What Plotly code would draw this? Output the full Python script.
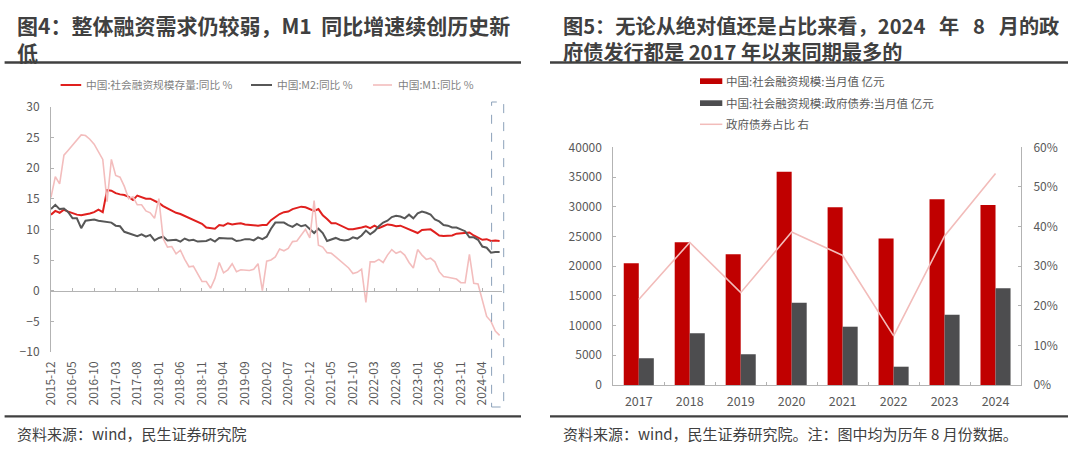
import plotly.graph_objects as go

# ---------------- data: left chart (monthly, 2015-12 .. 2024-08) ----------------
months = ["2015-12"] + [f"{y}-{m:02d}" for y in range(2016, 2025) for m in range(1, 13)]
months = months[:105]

tsf_stock_yoy = [
    12.4,
    13.0, 12.7, 13.2, 12.9, 12.6, 12.4, 12.3, 12.4, 12.6, 12.8, 13.2, 12.8,
    16.4, 16.3, 15.9, 15.7, 15.6, 15.3, 14.8, 15.5, 15.2, 15.0, 15.0, 14.7,
    14.3, 13.8, 13.4, 13.0, 12.7, 12.5, 12.2, 11.8, 11.6, 11.3, 10.9, 10.3,
    10.2, 10.1, 10.7, 10.6, 11.0, 10.8, 10.9, 11.0, 10.8, 10.7, 10.6, 10.6,
    10.7, 10.7, 11.5, 12.0, 12.5, 12.8, 12.9, 13.3, 13.5, 13.7, 13.6, 13.3,
    13.0, 13.3, 12.3, 11.7, 11.0, 11.0, 10.7, 10.3, 10.0, 10.0, 10.1, 10.3,
    10.5, 10.2, 10.6, 10.2, 10.5, 10.8, 10.7, 10.5, 10.6, 10.3, 10.0, 9.6,
    9.4, 9.9, 10.0, 10.0, 9.5, 9.0, 8.9, 9.0, 9.0, 9.3, 9.4, 9.5,
    9.5, 9.0, 8.7, 8.3, 8.4, 8.1, 8.2, 8.1,
]
m2_yoy = [
    13.3,
    14.0, 13.3, 13.4, 12.8, 11.8, 11.8, 10.2, 11.4, 11.5, 11.6, 11.4, 11.3,
    11.3, 11.1, 10.6, 10.5, 9.6, 9.4, 9.2, 8.9, 9.2, 8.8, 9.1, 8.2,
    8.6, 8.8, 8.2, 8.3, 8.3, 8.0, 8.5, 8.2, 8.3, 8.0, 8.0, 8.1,
    8.4, 8.0, 8.6, 8.5, 8.5, 8.5, 8.1, 8.2, 8.4, 8.4, 8.2, 8.7,
    8.4, 8.8, 10.1, 11.1, 11.1, 11.1, 10.7, 10.4, 10.9, 10.5, 10.7, 10.1,
    9.4, 10.1, 9.4, 8.1, 8.3, 8.6, 8.3, 8.2, 8.3, 8.7, 8.5, 9.0,
    9.8, 9.2, 9.7, 10.5, 11.1, 11.4, 12.0, 12.2, 12.1, 11.8, 12.4, 11.8,
    12.6, 12.9, 12.7, 12.4, 11.6, 11.3, 10.7, 10.6, 10.3, 10.3, 10.0, 9.7,
    8.7, 8.7, 8.3, 7.2, 7.0, 6.2, 6.3, 6.3,
]
m1_yoy = [
    15.2,
    18.6, 17.4, 22.1, 22.9, 23.7, 24.6, 25.4, 25.3, 24.7, 23.9, 22.7, 21.4,
    14.5, 21.4, 18.8, 18.5, 17.0, 15.0, 15.3, 14.0, 14.0, 13.0, 12.7, 11.8,
    15.0, 8.5, 7.1, 7.2, 6.0, 6.6, 5.1, 3.9, 4.0, 2.7, 1.5, 1.5,
    0.4, 2.0, 4.6, 2.9, 3.4, 4.4, 3.1, 3.4, 3.4, 3.3, 3.5, 4.4,
    0.0, 4.8, 5.0, 5.5, 6.8, 6.5, 6.9, 8.0, 8.1, 9.1, 10.0, 8.6,
    14.7, 7.4, 7.1, 6.2, 6.1, 5.5, 4.9, 4.2, 3.7, 2.8, 3.0, 3.5,
    -1.9, 4.7, 4.7, 5.1, 4.6, 5.8, 6.7, 6.1, 6.4, 5.8, 4.6, 3.7,
    6.7, 5.8, 5.1, 5.3, 4.7, 3.1, 2.3, 2.2, 2.1, 1.9, 1.3, 1.3,
    5.9, 1.2, 1.1, -1.4, -4.2, -5.0, -6.6, -7.3,
]
month_ticks = months[::5]
left_names = ["中国:社会融资规模存量:同比 %", "中国:M2:同比 %", "中国:M1:同比 %"]

# ---------------- data: right chart (August of each year) ----------------
years = ["2017", "2018", "2019", "2020", "2021", "2022", "2023", "2024"]
tsf_month = [20480, 24010, 21990, 35880, 29900, 24660, 31270, 30290]
gov_bond_month = [4490, 8700, 5160, 13850, 9810, 3080, 11830, 16270]
gov_bond_share = [0.216, 0.360, 0.233, 0.386, 0.327, 0.124, 0.376, 0.534]
right_names = ["中国:社会融资规模:当月值 亿元", "中国:社会融资规模:政府债券:当月值 亿元", "政府债券占比 右"]

# ---------------- styling ----------------
W, H = 1080, 453
FONT = "Noto Sans CJK SC"
RED_L, GRAY_L, PINK_L = "#E0201E", "#575757", "#F3BDBD"
RED_B, GRAY_B, PINK_R = "#C00000", "#4D4D4F", "#F2BCBA"
AX = "#B3B3B3"
TXT = "#595959"


def px(x):
    return x / W


def py(y):
    return 1 - y / H


fig = go.Figure()

# left chart
fig.add_trace(go.Scatter(x=months, y=tsf_stock_yoy, mode="lines", name=left_names[0],
                         line=dict(color=RED_L, width=2), xaxis="x", yaxis="y"))
fig.add_trace(go.Scatter(x=months, y=m2_yoy, mode="lines", name=left_names[1],
                         line=dict(color=GRAY_L, width=2), xaxis="x", yaxis="y"))
fig.add_trace(go.Scatter(x=months, y=m1_yoy, mode="lines", name=left_names[2],
                         line=dict(color=PINK_L, width=1.6), xaxis="x3", yaxis="y"))

# right chart
fig.add_trace(go.Bar(x=years, y=tsf_month, name=right_names[0], marker_color=RED_B,
                     xaxis="x2", yaxis="y2"))
fig.add_trace(go.Bar(x=years, y=gov_bond_month, name=right_names[1], marker_color=GRAY_B,
                     xaxis="x2", yaxis="y2"))
fig.add_trace(go.Scatter(x=years, y=gov_bond_share, mode="lines", name=right_names[2],
                         line=dict(color=PINK_R, width=1.6), xaxis="x2", yaxis="y3"))

tickfont = dict(family=FONT, size=12, color=TXT)
L_DOM_X = [px(51), px(502.2)]
L_DOM_Y = [py(352), py(106.7)]
R_DOM_X = [px(613.3), px(1021)]
R_DOM_Y = [py(385), py(147.3)]

fig.update_layout(
    template="none",
    width=W, height=H,
    margin=dict(l=0, r=0, t=0, b=0),
    paper_bgcolor="white", plot_bgcolor="white",
    font=dict(family=FONT, size=12, color=TXT),
    showlegend=False,
    barmode="group", bargap=0.41, bargroupgap=0,
    xaxis=dict(domain=L_DOM_X, type="category", range=[0, 104.6],
               tickmode="array", tickvals=month_ticks, ticktext=month_ticks,
               tickangle=-90, ticks="", showline=False, showgrid=False, zeroline=False,
               tickfont=tickfont, ticklabelstandoff=6, anchor="y", automargin=False),
    xaxis3=dict(type="category", range=[0, 104.6], overlaying="x", anchor="free",
                position=py(290.7), showline=True, linecolor=AX, linewidth=1,
                tickmode="array", tickvals=month_ticks, ticks="inside", ticklen=3,
                tickcolor=AX, showticklabels=False, showgrid=False, zeroline=False,
                automargin=False),
    yaxis=dict(domain=L_DOM_Y, range=[-10, 30], dtick=5, tick0=0, anchor="x",
               showline=True, linecolor=AX, linewidth=1, ticks="inside", ticklen=3,
               tickcolor=AX, showgrid=False, zeroline=False, tickfont=tickfont,
               ticklabelstandoff=8, automargin=False),
    xaxis2=dict(domain=R_DOM_X, type="category", anchor="y2", showline=True, linecolor=AX,
                linewidth=1, ticks="inside", ticklen=3, tickcolor=AX, tickson="boundaries",
                showgrid=False, zeroline=False, tickfont=dict(family=FONT, size=12.5, color=TXT),
                ticklabelstandoff=5, automargin=False),
    yaxis2=dict(domain=R_DOM_Y, range=[0, 40000], dtick=5000, tickformat="d", anchor="x2",
                showline=True, linecolor=AX, linewidth=1, ticks="inside", ticklen=3,
                tickcolor=AX, showgrid=False, zeroline=False, tickfont=tickfont,
                ticklabelstandoff=8, automargin=False),
    yaxis3=dict(range=[0, 0.6], dtick=0.1, tickformat=".0%", overlaying="y2", anchor="x2",
                side="right", showline=True, linecolor=AX, linewidth=1, ticks="inside",
                ticklen=3, tickcolor=AX, showgrid=False, zeroline=False, tickfont=tickfont,
                ticklabelstandoff=9, automargin=False),
)

shapes = []
annots = []
DARK = "#404040"

# title rules and bottom rules
for x0, x1 in [(4.6, 521), (550, 1068)]:
    for yy in (62.5, 416.3):
        shapes.append(dict(type="line", xref="paper", yref="paper", x0=px(x0), x1=px(x1),
                           y0=py(yy), y1=py(yy), line=dict(color=DARK, width=2.3)))

# two-line titles
def title(line1, line2, x, size):
    annots.append(dict(text=f"<b>{line1}</b><br><b>{line2}</b>", x=px(x), y=py(38.5),
                       xref="paper", yref="paper", align="left",
                       xanchor="left", yanchor="middle", showarrow=False,
                       font=dict(family=FONT, size=size, color=DARK)))

title("图4：整体融资需求仍较弱，M1\u00a0\u00a0同比增速续创历史新", "低", 15, 21)
title("图5：无论从绝对值还是占比来看，2024\u00a0\u00a0\u00a0年\u00a0\u00a0\u00a08\u00a0\u00a0\u00a0月的政",
      "府债发行都是\u00a02017\u00a0年以来同期最多的", 561, 20.2)

# sources
for text, x in [("资料来源：wind，民生证券研究院", 15),
                ("资料来源：wind，民生证券研究院。注：图中均为历年\u00a08\u00a0月份数据。", 561)]:
    annots.append(dict(text=text, x=px(x), y=py(433), xref="paper", yref="paper",
                       xanchor="left", yanchor="middle", showarrow=False,
                       font=dict(family=FONT, size=15, color=DARK)))

# left legend
for (x0, x1, tx), col, name, w in zip([(60.6, 81.2, 84), (251, 272, 275), (373, 392, 395.5)],
                                       [RED_L, GRAY_L, PINK_L], left_names, [2, 2, 1.6]):
    shapes.append(dict(type="line", xref="paper", yref="paper", x0=px(x0), x1=px(x1),
                       y0=py(85), y1=py(85), line=dict(color=col, width=w)))
    annots.append(dict(text=name, x=px(tx), y=py(85), xref="paper", yref="paper",
                       xanchor="left", yanchor="middle", showarrow=False,
                       font=dict(family=FONT, size=10.7, color="#7F7F7F")))

# right legend
shapes.append(dict(type="rect", xref="paper", yref="paper", x0=px(700), x1=px(722.3),
                   y0=py(84), y1=py(78.3), fillcolor=RED_B, line=dict(width=0)))
shapes.append(dict(type="rect", xref="paper", yref="paper", x0=px(700), x1=px(722.3),
                   y0=py(106), y1=py(100.3), fillcolor=GRAY_B, line=dict(width=0)))
shapes.append(dict(type="line", xref="paper", yref="paper", x0=px(700), x1=px(722.3),
                   y0=py(124.3), y1=py(124.3), line=dict(color=PINK_R, width=1.5)))
for name, yy in zip(right_names, [81.2, 103.2, 124.3]):
    annots.append(dict(text=name, x=px(724), y=py(yy), xref="paper", yref="paper",
                       xanchor="left", yanchor="middle", showarrow=False,
                       font=dict(family=FONT, size=11.5, color=TXT)))

# dashed highlight box on the latest months
shapes.append(dict(type="rect", xref="paper", yref="paper", x0=px(491.6), x1=px(503.7),
                   y0=py(407), y1=py(102), line=dict(color="#8DA2BA", width=1, dash="dash"),
                   fillcolor="rgba(0,0,0,0)"))

fig.update_layout(shapes=shapes, annotations=annots)
fig.write_html("out.html", config={"displayModeBar": False},
               post_script="document.body.style.margin='0px';document.body.style.overflow='hidden';")
